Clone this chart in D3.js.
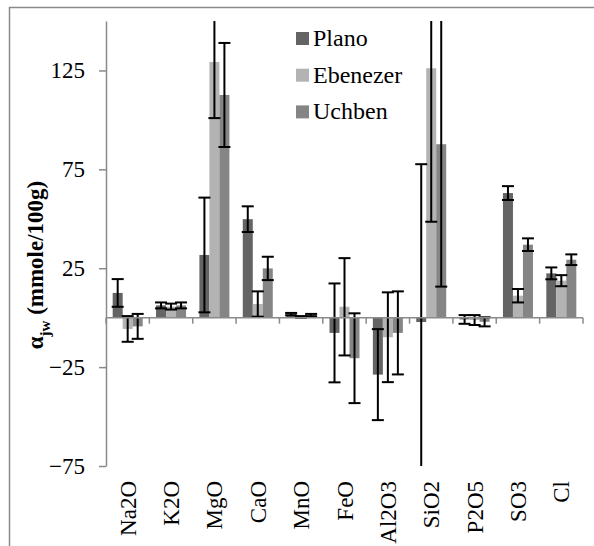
<!DOCTYPE html>
<html><head><meta charset="utf-8">
<script src="https://cdn.jsdelivr.net/npm/d3@7"></script>
<style>body{margin:0;background:#fff}svg{display:block}</style>
</head><body><svg id="c" width="594" height="546"></svg>
<script>
const categories = ["Na2O","K2O","MgO","CaO","MnO","FeO","Al2O3","SiO2","P2O5","SO3","Cl"];
const series = ["Plano","Ebenezer","Uchben"];
const colors = ["#646464","#b3b3b3","#858585"];
const plano    = [12.5, 6.2, 31.7, 49.8, 1.8, -7.7, -28.8, -2.2, -0.9, 63.0, 22.4];
const planoErr = [7.0, 1.5, 29.0, 6.5, 0.6, 25.0, 23.0, 79.8, 2.2, 3.5, 3.0];
const eben     = [-5.7, 5.6, 129.3, 6.9, 0.4, 5.5, -9.9, 126.1, -1.2, 11.1, 18.7];
const ebenErr  = [6.5, 1.5, 28.4, 6.4, 0.4, 24.6, 22.7, 77.6, 2.5, 3.4, 2.8];
const uchb     = [-4.4, 6.2, 112.6, 24.9, 1.3, -20.5, -7.7, 87.7, -2.1, 36.9, 29.3];
const uchbErr  = [6.3, 1.5, 26.3, 5.9, 0.6, 22.7, 21.0, 72.0, 2.3, 3.2, 2.7];
const yTicks = [-75, -25, 25, 75, 125];
const yDomain = [-75, 150];
const yLabel = "(mmole/100g)";

const FONT = "'Liberation Serif'";
const vals = [plano, eben, uchb], errs = [planoErr, ebenErr, uchbErr];
const svg = d3.select("#c");
const L = 106, R = 583, T = 21, B = 466;
const y = d3.scaleLinear().domain(yDomain).range([B, T]);
const x0 = d3.scaleBand().domain(categories).range([L, R]).padding(0);
const x1 = d3.scaleBand().domain(series).range([0, x0.bandwidth()]).paddingInner(0).paddingOuter(0.668);

// frame
svg.append("path").attr("d", "M9.5,546V7.5H594").attr("fill","none").attr("stroke","#8a8a8a").attr("stroke-width",1.5);

svg.append("defs").append("clipPath").attr("id","pc").append("rect")
  .attr("x", L - 5).attr("y", T).attr("width", R - L + 10).attr("height", B - T);

const plot = svg.append("g").attr("clip-path","url(#pc)");
const data = [];
categories.forEach((c, i) => series.forEach((s, j) => data.push({c, s, j, v: vals[j][i], e: errs[j][i]})));

plot.selectAll("rect.bar").data(data).join("rect").attr("class","bar")
  .attr("x", d => x0(d.c) + x1(d.s)).attr("width", x1.bandwidth())
  .attr("y", d => y(Math.max(0, d.v))).attr("height", d => Math.abs(y(d.v) - y(0)))
  .attr("fill", d => colors[d.j]);

// zero axis
svg.append("line").attr("x1", L).attr("x2", R).attr("y1", y(0)).attr("y2", y(0)).attr("stroke","#8a8a8a").attr("stroke-width",1.5);
svg.selectAll("line.xt").data(d3.range(categories.length + 1)).join("line").attr("class","xt")
  .attr("x1", i => L + i * x0.step()).attr("x2", i => L + i * x0.step())
  .attr("y1", y(0)).attr("y2", y(0) + 6).attr("stroke","#8a8a8a").attr("stroke-width",1.5);

// error bars
const eb = plot.selectAll("g.eb").data(data).join("g").attr("class","eb");
const cx = d => x0(d.c) + x1(d.s) + x1.bandwidth() / 2;
eb.append("line").attr("x1", cx).attr("x2", cx).attr("y1", d => y(d.v + d.e)).attr("y2", d => y(d.v - d.e)).attr("stroke","#000").attr("stroke-width",2);
eb.append("line").attr("x1", d => cx(d) - 6).attr("x2", d => cx(d) + 6).attr("y1", d => y(d.v + d.e)).attr("y2", d => y(d.v + d.e)).attr("stroke","#000").attr("stroke-width",2);
eb.append("line").attr("x1", d => cx(d) - 6).attr("x2", d => cx(d) + 6).attr("y1", d => y(d.v - d.e)).attr("y2", d => y(d.v - d.e)).attr("stroke","#000").attr("stroke-width",2);

// y axis
const ya = svg.append("g").attr("transform", `translate(${L},0)`)
  .call(d3.axisLeft(y).tickValues(yTicks).tickSize(7).tickSizeOuter(0).tickFormat(d3.format("d")));
ya.select(".domain").attr("stroke","#8a8a8a").attr("stroke-width",1.5);
ya.selectAll(".tick line").attr("stroke","#8a8a8a").attr("stroke-width",1.5);
ya.selectAll(".tick text").attr("x", -21).attr("font-size", 23).attr("fill","#000")
  .style("font-family", FONT);

// category labels
svg.selectAll("text.cat").data(categories).join("text").attr("class","cat")
  .attr("transform", d => `translate(${x0(d) + x0.bandwidth()/2},481) rotate(-90)`)
  .attr("text-anchor","end").attr("dy","0.35em").attr("font-size", 23).style("font-family", FONT).text(d => d);

// y label
const yl = svg.append("text").attr("transform","translate(35,265) rotate(-90)")
  .attr("text-anchor","middle").attr("dy","0.35em").attr("font-size",23).attr("font-weight","bold").style("font-family", FONT);
yl.append("tspan").text("α");
yl.append("tspan").attr("font-size",15).attr("dy","0.45em").text("jw");
yl.append("tspan").attr("dy","-0.3em").text(" " + yLabel);

// legend
const lg = svg.selectAll("g.lg").data(series).join("g").attr("class","lg")
  .attr("transform", (d, i) => `translate(296,${32 + i * 36.7})`);
lg.append("rect").attr("width",13).attr("height",13).attr("fill", (d, i) => colors[i]);
lg.append("text").attr("x",17).attr("y",14).attr("font-size",24).style("font-family", FONT).text(d => d);
</script></body></html>
